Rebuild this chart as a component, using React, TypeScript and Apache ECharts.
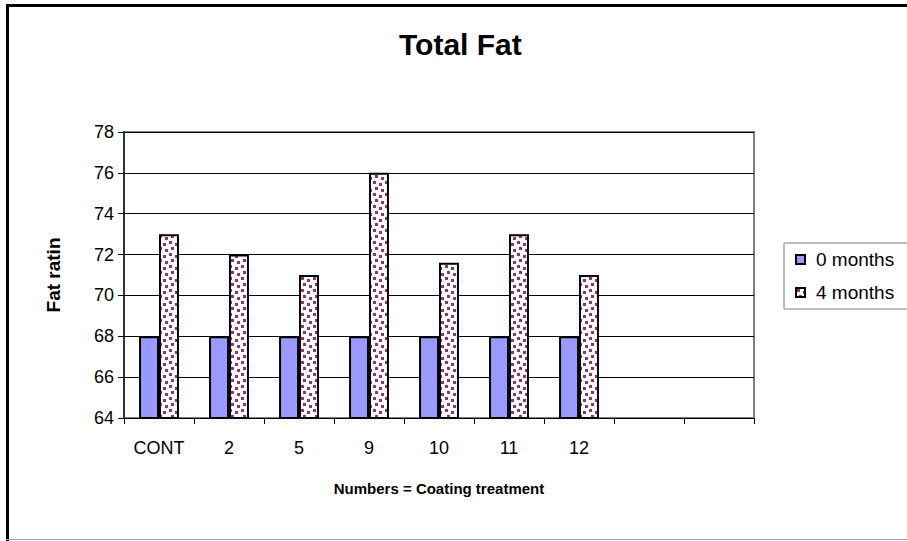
import React, { useEffect, useRef } from "react";
import * as echarts from "echarts";

const categories = ["CONT", "2", "5", "9", "10", "11", "12", "", ""];
const months0 = [68, 68, 68, 68, 68, 68, 68, null, null];
const months4 = [73, 72, 71, 76, 71.6, 73, 71, null, null];
const yMin = 64;
const yMax = 78;
const yStep = 2;

function makePattern(): HTMLCanvasElement {
  const c = document.createElement("canvas");
  c.width = 12;
  c.height = 12;
  const ctx = c.getContext("2d")!;
  ctx.fillStyle = "#ffffff";
  ctx.fillRect(0, 0, 12, 12);
  ctx.fillStyle = "#993366";
  ctx.fillRect(1, 1, 3, 3);
  ctx.fillRect(7, 3, 3, 3);
  ctx.fillRect(3, 7, 3, 3);
  ctx.fillRect(9, 9, 3, 3);
  return c;
}

export default function App() {
  const ref = useRef<HTMLDivElement>(null);
  useEffect(() => {
    if (!ref.current) return;
    const chart = echarts.init(ref.current, null, { renderer: "svg" });
    const font = "Liberation Sans, Arial, sans-serif";
    const pattern = { image: makePattern(), repeat: "repeat" };
    chart.setOption({
      animation: false,
      backgroundColor: "#ffffff",
      textStyle: { fontFamily: font },
      title: {
        text: "Total Fat",
        left: 399,
        top: 29,
        padding: 0,
        textStyle: { fontFamily: font, fontSize: 30, fontWeight: "bold", color: "#000" },
      },
      legend: {
        orient: "vertical",
        left: 784,
        top: 243,
        width: 118,
        padding: [7, 14, 7, 11],
        itemGap: 14,
        itemWidth: 9,
        itemHeight: 9,
        borderColor: "#808080",
        borderWidth: 1,
        backgroundColor: "#fff",
        textStyle: { fontFamily: font, fontSize: 19, color: "#000", padding: [0, 0, 0, 6] },
        data: [
          { name: "0 months", icon: "rect" },
          { name: "4 months", icon: "rect" },
        ],
      },
      grid: {
        left: 124,
        right: 153,
        top: 132,
        bottom: 123,
        show: true,
        borderColor: "#808080",
        borderWidth: 2,
        backgroundColor: "transparent",
      },
      xAxis: {
        type: "category",
        data: categories,
        name: "Numbers = Coating treatment",
        nameLocation: "middle",
        nameGap: 63,
        nameTextStyle: { fontFamily: font, fontSize: 15, fontWeight: "bold", color: "#000" },
        axisLine: { lineStyle: { color: "#000", width: 1 } },
        axisTick: { show: true, alignWithLabel: false, length: 6, inside: false, lineStyle: { color: "#000" } },
        axisLabel: { fontFamily: font, fontSize: 18, color: "#000", margin: 21, interval: 0 },
      },
      yAxis: {
        type: "value",
        min: yMin,
        max: yMax,
        interval: yStep,
        name: "Fat ratin",
        nameLocation: "middle",
        nameGap: 61,
        nameRotate: 90,
        nameTextStyle: { fontFamily: font, fontSize: 19, fontWeight: "bold", color: "#000" },
        axisLine: { show: true, lineStyle: { color: "#333", width: 2 } },
        axisTick: { show: true, length: 6, lineStyle: { color: "#000" } },
        axisLabel: { fontFamily: font, fontSize: 18, color: "#000", margin: 10 },
        splitLine: { show: true, lineStyle: { color: "#000", width: 1 } },
      },
      series: [
        {
          name: "0 months",
          type: "bar",
          data: months0,
          barGap: "0%",
          barCategoryGap: "43%",
          itemStyle: { color: "#9999ff", borderColor: "#000", borderWidth: 2 },
        },
        {
          name: "4 months",
          type: "bar",
          data: months4,
          barGap: "0%",
          barCategoryGap: "43%",
          itemStyle: {
            color: pattern,
            borderColor: "#000",
            borderWidth: 2,
          },
        },
      ],
      graphic: [
        { type: "line", shape: { x1: 7.5, y1: 4, x2: 7.5, y2: 541 }, style: { stroke: "#000", lineWidth: 3 } },
        { type: "line", shape: { x1: 6, y1: 5.5, x2: 907, y2: 5.5 }, style: { stroke: "#000", lineWidth: 3 } },
        { type: "line", shape: { x1: 6, y1: 539.5, x2: 907, y2: 539.5 }, style: { stroke: "#a0a0a0", lineWidth: 1 } },
      ],
    });
    return () => chart.dispose();
  }, []);
  return (
    <div
      ref={ref}
      style={{ position: "fixed", left: 0, top: 0, width: 907, height: 541 }}
    />
  );
}
